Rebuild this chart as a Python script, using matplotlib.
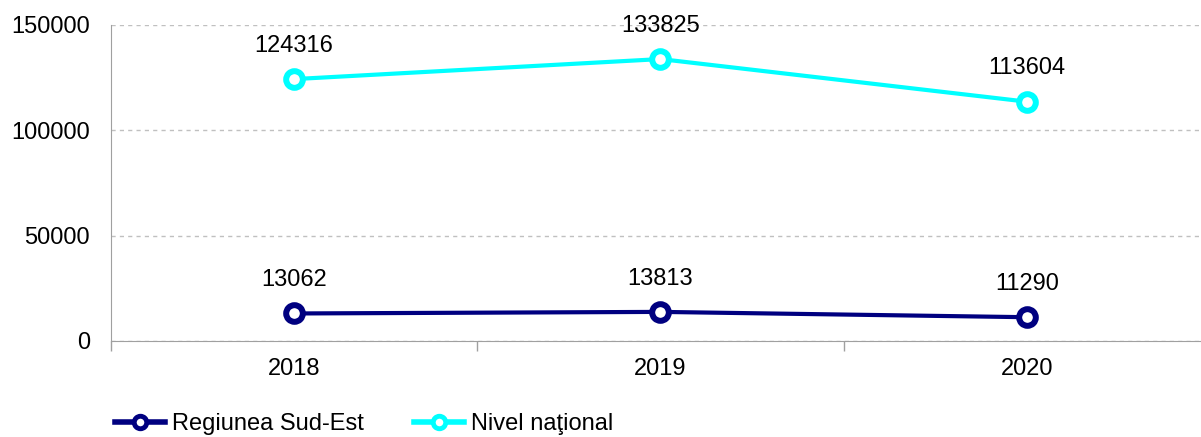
import matplotlib
matplotlib.use("Agg")
import matplotlib.pyplot as plt
from matplotlib.ticker import FixedLocator

plt.rcParams["font.family"] = ["Liberation Sans", "DejaVu Sans"]

years = ["2018", "2019", "2020"]
sud_est = [13062, 13813, 11290]
national = [124316, 133825, 113604]
series_names = ["Regiunea Sud-Est", "Nivel naţional"]

fig = plt.figure(figsize=(12.01, 4.37), dpi=100)
ax = fig.add_axes([0.0924, 0.2197, 0.9151, 0.7231])

x = list(range(len(years)))

l1, = ax.plot(x, sud_est, color="#000080", lw=3, marker="o", ms=12,
              mfc="white", mec="#000080", mew=4.3, label=series_names[0], zorder=3)
l2, = ax.plot(x, national, color="#00FFFF", lw=3, marker="o", ms=12,
              mfc="white", mec="#00FFFF", mew=4.3, label=series_names[1], zorder=3)

for vals in [sud_est, national]:
    for xi, v in zip(x, vals):
        ax.annotate(str(v), (xi, v), xytext=(0, 16), textcoords="offset points",
                    ha="center", va="bottom", fontsize=17)

ax.set_xlim(-0.5, 2.5)
ax.set_ylim(0, 150000)
ax.set_yticks([0, 50000, 100000, 150000])
ax.set_yticklabels(["0", "50000", "100000", "150000"], fontsize=17)
ax.tick_params(axis="y", length=0, pad=15)

ax.set_xticks(x)
ax.set_xticklabels(years, fontsize=17)
ax.tick_params(axis="x", which="major", length=0, pad=12)
ax.xaxis.set_minor_locator(FixedLocator([-0.5, 0.5, 1.5, 2.5]))
ax.tick_params(axis="x", which="minor", length=7, color="#a0a0a0", width=1)

ax.grid(axis="y", color="#c0c0c0", linestyle=(0, (3, 3)), lw=1)
ax.set_axisbelow(True)

for side in ["top", "right"]:
    ax.spines[side].set_visible(False)
ax.spines["left"].set_color("#a0a0a0")
ax.spines["bottom"].set_color("#a0a0a0")

leg = fig.legend(handles=[l1, l2], loc="lower left", bbox_to_anchor=(0.078, -0.045),
                 ncol=2, frameon=False, fontsize=17, handlelength=2.1,
                 handletextpad=0.3, columnspacing=2.15, markerscale=0.75)
for h in leg.legend_handles:
    h.set_linewidth(4)
    h.set_markeredgewidth(3.5)

fig.savefig("out.png", dpi=100)
